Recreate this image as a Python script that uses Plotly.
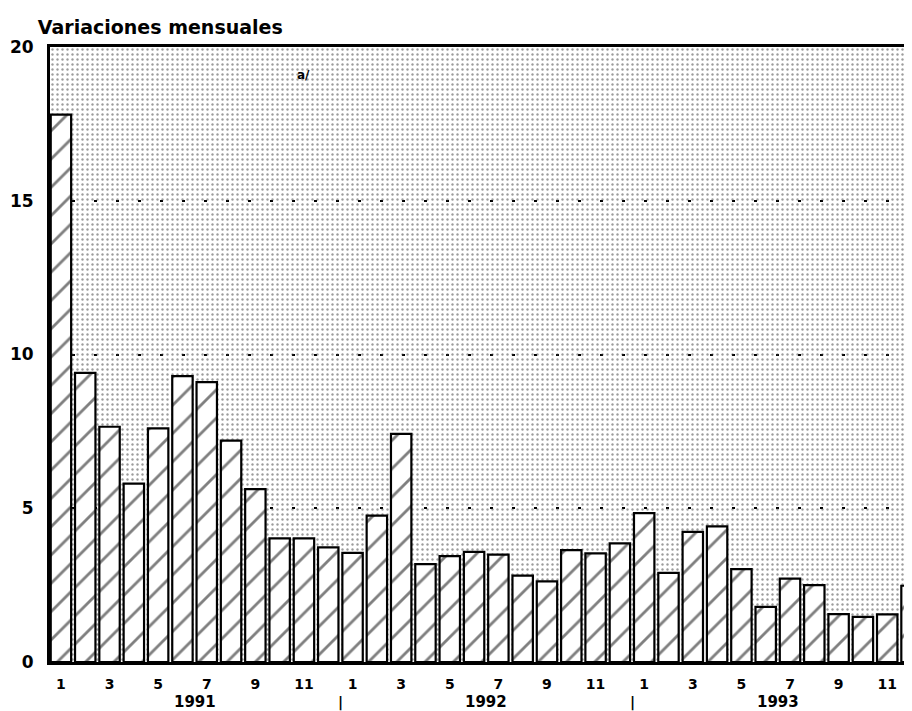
"""Variaciones mensuales 1991-1993: hatched monthly bar chart."""

import plotly.graph_objects as go

# data
months = list(range(1, 37))
month_labels = ["1", "3", "5", "7", "9", "11"] * 3
years = ["1991", "1992", "1993"]
variacion = [17.8, 9.4, 7.65, 5.8, 7.6, 9.3, 9.1, 7.2, 5.62, 4.02, 4.02, 3.73,
             3.55, 4.76, 7.42, 3.18, 3.44, 3.58, 3.49, 2.81, 2.62, 3.64, 3.53, 3.86,
             4.84, 2.9, 4.23, 4.41, 3.02, 1.79, 2.71, 2.5, 1.56, 1.47, 1.55, 2.48]
y_ticks = [0, 5, 10, 15, 20]

X_RANGE = [0.55, 36.02]
Y_RANGE = [0, 20]
FONT = "DejaVu Sans"
# the page puts the plot 8px in from the corner, so size/margins are trimmed by that
W, H = 904, 703

fig = go.Figure()

# dotted screen behind the bars (transparent gaps so the grid shows through)
fig.add_trace(go.Bar(
    x=[(X_RANGE[0] + X_RANGE[1]) / 2], y=[Y_RANGE[1]],
    width=[X_RANGE[1] - X_RANGE[0]],
    marker=dict(color="rgba(0,0,0,0)", line=dict(width=0),
                pattern=dict(shape=".", size=5, solidity=0.18,
                             fgcolor="#3a3a3a", bgcolor="rgba(0,0,0,0)")),
    hoverinfo="skip", showlegend=False,
))

fig.add_trace(go.Bar(
    x=months, y=variacion, width=0.84,
    marker=dict(color="white", line=dict(color="black", width=2.2),
                pattern=dict(shape="/", size=20, solidity=0.14,
                             fgcolor="black", bgcolor="white")),
    showlegend=False,
))

# year labels and separators under the month ticks
for i, yr in enumerate(years):
    fig.add_annotation(x=12 * i + 6.5, y=0, xref="x", yref="paper", text=yr,
                       showarrow=False, yanchor="middle", yshift=-40,
                       font=dict(family=FONT, size=15, color="black", weight="bold"))
    fig.add_annotation(x=12 * i + 0.5, y=0, xref="x", yref="paper", text="|",
                       showarrow=False, yanchor="middle", yshift=-40,
                       font=dict(family=FONT, size=14, color="black", weight="bold"))

fig.add_annotation(x=11, y=19.1, text="a/", showarrow=False,
                   font=dict(family=FONT, size=12, color="black", weight="bold"))

fig.update_layout(
    width=W, height=H,
    margin=dict(l=42, r=0, t=39, b=49),
    barmode="overlay",
    plot_bgcolor="white", paper_bgcolor="white",
    title=dict(text="Variaciones mensuales", x=0.033, xanchor="left",
               y=0.972, yanchor="middle",
               font=dict(family=FONT, size=19, color="black", weight="bold")),
    font=dict(family=FONT, color="black"),
)

fig.update_xaxes(
    range=X_RANGE, tickvals=months[::2], ticktext=month_labels,
    showgrid=False, zeroline=False,
    showline=True, linecolor="black", linewidth=2.5, mirror=True,
    ticks="", ticklabelstandoff=7,
    tickfont=dict(family=FONT, size=14, color="black", weight="bold"),
)
fig.update_yaxes(
    range=Y_RANGE, tickvals=y_ticks,
    showgrid=True, gridcolor="black", gridwidth=2, griddash="3px,19px",
    zeroline=False, showline=True, linecolor="black", linewidth=3,
    ticks="", ticklabelstandoff=10,
    tickfont=dict(family=FONT, size=17, color="black", weight="bold"),
)

fig.write_html("out.html")
